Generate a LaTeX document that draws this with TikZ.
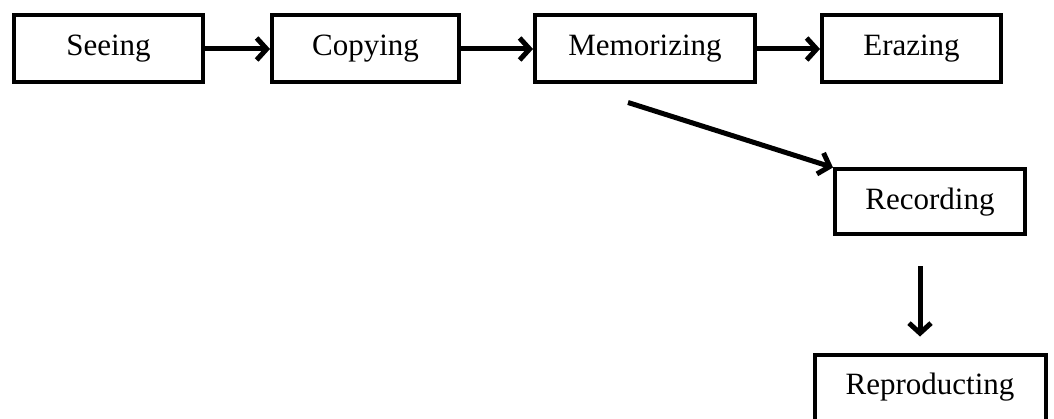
\documentclass[tikz,border=0pt]{standalone}
\usepackage{fontspec}
\setmainfont{Liberation Serif}
\usetikzlibrary{arrows.meta,positioning,calc}

\begin{document}
\begin{tikzpicture}[x=1pt,y=1pt,>={Straight Barb[length=10pt,width=22pt]},
    stage/.style={draw, line width=4pt, minimum height=67pt, inner sep=0pt,
      font=\fontsize{31}{36}\selectfont},
    flow/.style={->, line width=5pt}]
    \clip (0,0) rectangle (1054,-419);

    \node[stage, minimum width=189pt] (seeing) at (108.5,-49) {Seeing};
    \node[stage, minimum width=187pt] (copying) [right=65pt of seeing] {Copying};
    \node[stage, minimum width=220pt] (memorizing) [right=72pt of copying] {Memorizing};
    \node[stage, minimum width=179pt] (erazing) [right=63pt of memorizing] {Erazing};
    \node[stage, minimum width=190pt, minimum height=65pt] (recording)
      [below=83pt of erazing, xshift=18.5pt] {Recording};
    \node[stage, minimum width=231pt, minimum height=66pt] (reproducting)
      [below=116pt of recording] {Reproducting};

    \coordinate (memo tail) at ([xshift=-17pt,yshift=-18pt]memorizing.south);

    \path[flow]
    (seeing) edge (copying)
    (copying) edge (memorizing)
    (memorizing) edge (erazing)
    (memo tail) edge (recording.north west)
    ([xshift=-10pt]recording.south) edge [shorten <=30pt, shorten >=16pt]
      ([xshift=-10pt]recording.south |- reproducting.north)
    ;
\end{tikzpicture}
\end{document}
